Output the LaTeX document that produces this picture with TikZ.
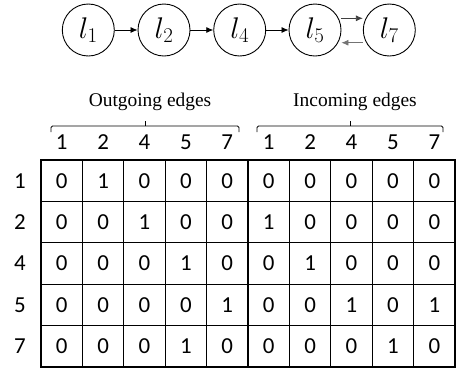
\RequirePackage{fix-cm}
\documentclass[tikz,border=0pt]{standalone}
\usepackage{fontspec}
\setmainfont{Liberation Serif}
\newfontfamily\numfont{Carlito}
\usetikzlibrary{arrows.meta}
\begin{document}
\begin{tikzpicture}[x=1bp,y=-1bp,
  vert/.style={circle,draw,line width=0.9bp,minimum size=52bp,inner sep=0pt,font=\fontsize{30}{30}\selectfont},
  arr/.style={-{Latex[length=7bp,width=6bp]},line width=0.8bp},
  num/.style={font=\numfont\fontsize{23}{24}\selectfont,inner sep=0pt},
  ttl/.style={font=\fontsize{19.5}{20}\selectfont,inner sep=0pt},
  brc/.style={line width=0.8bp,rounded corners=1.5bp}]
\useasboundingbox (0,0) rectangle (457,370);
% graph
\node[vert] (l1) at (88.3,30) {$l_1$};
\node[vert] (l2) at (164,30) {$l_2$};
\node[vert] (l4) at (239.7,30) {$l_4$};
\node[vert] (l5) at (315,30) {$l_5$};
\node[vert] (l7) at (389.3,30) {$l_7$};
\draw[arr] (l1) -- (l2);
\draw[arr] (l2) -- (l4);
\draw[arr] (l4) -- (l5);
\draw[arr,black!75] ([yshift=11.7bp]l5.east) -- ([yshift=11.7bp]l7.west);
\draw[arr,black!55] ([yshift=-12.7bp]l7.west) -- ([yshift=-12.7bp]l5.east);
% titles
\node[ttl] (tout) at (150,101.7) {Outgoing edges};
\node[ttl] (tin) at (355,101.7) {Incoming edges};
% braces
\draw[brc] (51,132) -- (51,126) -- (239,126) -- (239,132);
\draw[line width=0.8bp] (145,126) -- (145,120.5);
\draw[brc] (257,132) -- (257,126) -- (443,126) -- (443,132);
\draw[line width=0.8bp] (350,126) -- (350,120.5);
% labels
\foreach \lab [count=\j] in {1,2,4,5,7,1,2,4,5,7}
  \node[num] (col-\j) at ({41+41.4*(\j-0.5)},142) {\lab};
\foreach \lab [count=\i] in {1,2,4,5,7}
  \node[num] (row-\i) at (20,{160+41.4*(\i-0.5)}) {\lab};
% grid
\foreach \j in {1,...,9}
  \draw[line width=0.9bp] ({41+41.4*\j},160) -- ({41+41.4*\j},367);
\foreach \i in {1,...,4}
  \draw[line width=0.9bp] (41,{160+41.4*\i}) -- (455,{160+41.4*\i});
\draw[line width=2bp] (248,160) -- (248,367);
\draw[line width=2.2bp] (41,160) rectangle (455,367);
% cells
\foreach \row [count=\i] in {{0,1,0,0,0,0,0,0,0,0},{0,0,1,0,0,1,0,0,0,0},{0,0,0,1,0,0,1,0,0,0},{0,0,0,0,1,0,0,1,0,1},{0,0,0,1,0,0,0,0,1,0}}
  \foreach \v [count=\j] in \row
    \node[num] (c-\i-\j) at ({41+41.4*(\j-0.5)},{160+41.4*(\i-0.5)}) {\v};
\end{tikzpicture}
\end{document}
